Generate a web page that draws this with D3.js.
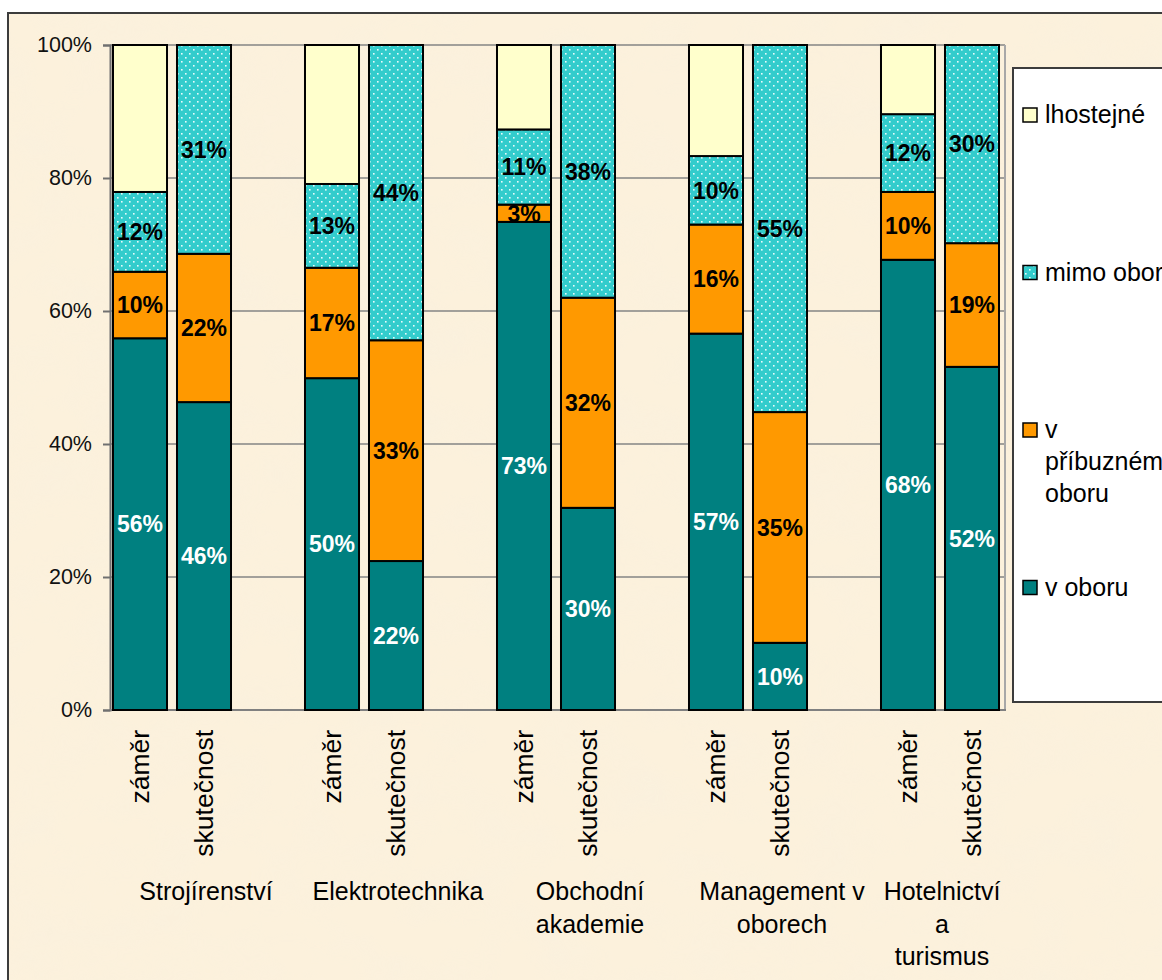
<!DOCTYPE html>
<html><head><meta charset="utf-8">
<script src="https://cdn.jsdelivr.net/npm/d3@7"></script>
<style>html,body{margin:0;padding:0;background:#fff;overflow:hidden}svg{display:block;font-family:"Liberation Sans",Arial,sans-serif}</style>
</head><body><svg id="c" width="1162" height="980"></svg>
<script>
// ---- data ----
const groups = ["Strojírenství","Elektrotechnika","Obchodní akademie","Management v oborech","Hotelnictví a turismus"];
const groupLabelLines = [["Strojírenství"],["Elektrotechnika"],["Obchodní","akademie"],["Management v","oborech"],["Hotelnictví","a","turismus"]];
const subCategories = ["záměr","skutečnost"];
const seriesNames = ["v oboru","v příbuzném oboru","mimo obor","lhostejné"];
const legendLines = [["v oboru"],["v","příbuzném","oboru"],["mimo obor"],["lhostejné"]];
const vOboru     = [55.9,46.3,49.9,22.4,73.4,30.4,56.6,10.1,67.7,51.6];
const vPribuznem = [10.0,22.3,16.6,33.2, 2.6,31.6,16.4,34.7,10.2,18.6];
const mimoObor   = [12.0,31.4,12.6,44.4,11.3,38.0,10.3,55.2,11.7,29.8];
const lhostejne  = [22.1, 0.0,20.9, 0.0,12.7, 0.0,16.7, 0.0,10.4, 0.0];
const yTicks = [0,20,40,60,80,100];

// ---- build ----
const seriesValues = [vOboru, vPribuznem, mimoObor, lhostejne];
const rows = [];
groups.forEach((g,gi)=>subCategories.forEach((s,si)=>{
  const i = gi*2+si; const r = {key:g+"|"+s, group:g, sub:s};
  seriesNames.forEach((n,k)=>r[n]=seriesValues[k][i]); rows.push(r);
}));
const slots = [];
groups.forEach((g,gi)=>{subCategories.forEach(s=>slots.push(g+"|"+s)); if(gi<groups.length-1) slots.push(g+"|gap");});

const svg = d3.select("#c");
const defs = svg.append("defs");
// parchment texture
const f = defs.append("filter").attr("id","parch").attr("x",0).attr("y",0).attr("width","100%").attr("height","100%");
f.append("feTurbulence").attr("type","fractalNoise").attr("baseFrequency","0.015 0.022").attr("numOctaves",3).attr("seed",7);
f.append("feColorMatrix").attr("type","matrix").attr("values","0 0 0 0 0.94  0 0 0 0 0.87  0 0 0 0 0.74  0 0 0 1.3 -0.5");
// dotted pattern
const pat = defs.append("pattern").attr("id","dots").attr("patternUnits","userSpaceOnUse").attr("width",8).attr("height",8);
pat.append("rect").attr("width",8).attr("height",8).attr("fill","#33CCCC");
pat.append("rect").attr("x",1).attr("y",1).attr("width",1.6).attr("height",1.6).attr("fill","#e8fbfb");
pat.append("rect").attr("x",5).attr("y",5).attr("width",1.6).attr("height",1.6).attr("fill","#e8fbfb");

// chart area background
svg.append("rect").attr("x",8).attr("y",13).attr("width",1200).attr("height",1000).attr("fill","#fcf1dc");
svg.append("rect").attr("x",8).attr("y",13).attr("width",1200).attr("height",1000).attr("filter","url(#parch)").attr("opacity",0.6);
svg.append("rect").attr("x",8).attr("y",13).attr("width",1200).attr("height",1000).attr("fill","none").attr("stroke","#3c3c3c").attr("stroke-width",2);

const pL=110, pR=1006, pT=45, pB=710;
const x = d3.scaleBand().domain(slots).range([pL,pR]).paddingInner(0.156).paddingOuter(0.078).align(0.3);
const y = d3.scaleLinear().domain([0,100]).range([pB,pT]);
const colors = {"v oboru":"#008080","v příbuzném oboru":"#FF9900","mimo obor":"url(#dots)","lhostejné":"#FFFFCC"};
const labelColors = {"v oboru":"#ffffff","v příbuzném oboru":"#000","mimo obor":"#000"};

// gridlines
svg.append("g").selectAll("line").data(yTicks.filter(t=>t>0)).join("line")
  .attr("x1",pL).attr("x2",pR-1).attr("y1",d=>y(d)).attr("y2",d=>y(d))
  .attr("stroke","#858585").attr("stroke-width",1.5);
svg.append("line").attr("x1",pR-1).attr("x2",pR-1).attr("y1",pT).attr("y2",pB).attr("stroke","#a8a8a8").attr("stroke-width",2);

// y axis
const yAxis = svg.append("g").attr("transform",`translate(${pL},0)`)
  .call(d3.axisLeft(y).tickValues(yTicks).tickFormat(d=>d+"%").tickSize(7).tickPadding(11));
yAxis.select(".domain").attr("stroke","#707070").attr("stroke-width",2);
yAxis.selectAll(".tick line").attr("stroke","#707070").attr("stroke-width",2);
yAxis.selectAll("text").attr("font-size",21.5).attr("fill","#111").attr("font-family",'"Liberation Sans",Arial,sans-serif');
svg.append("line").attr("x1",pL).attr("x2",pR).attr("y1",pB).attr("y2",pB).attr("stroke","#808080").attr("stroke-width",2);

// stacks
const stack = d3.stack().keys(seriesNames)(rows);
const gBars = svg.append("g");
stack.forEach(layer=>{
  const name = layer.key;
  gBars.append("g").selectAll("rect").data(layer.filter(d=>d[1]-d[0]>0)).join("rect")
    .attr("x",d=>x(d.data.key)).attr("width",x.bandwidth())
    .attr("y",d=>y(d[1])).attr("height",d=>y(d[0])-y(d[1]))
    .attr("fill",colors[name]).attr("stroke","#000").attr("stroke-width",2);
});
// labels
stack.forEach(layer=>{
  const name = layer.key; if(!(name in labelColors)) return;
  svg.append("g").selectAll("text").data(layer.filter(d=>d[1]-d[0]>0)).join("text")
    .attr("x",d=>x(d.data.key)+x.bandwidth()/2).attr("y",d=>(y(d[0])+y(d[1]))/2)
    .attr("dy","0.36em").attr("text-anchor","middle").attr("font-weight","bold").attr("font-size",23)
    .attr("fill",labelColors[name]).text(d=>d3.format(".0f")(d[1]-d[0])+"%");
});

// sub-category labels (rotated)
svg.append("g").selectAll("text").data(rows).join("text")
  .attr("transform",d=>`translate(${x(d.key)+x.bandwidth()/2+9},${pB+20}) rotate(-90) scale(1.06,1)`)
  .attr("text-anchor","end").attr("font-size",25).attr("fill","#000").text(d=>d.sub);

// group labels
groups.forEach((g,gi)=>{
  const own = slots.filter(s=>s.startsWith(g+"|"));
  const lo = x(own[0]) - (x.step()-x.bandwidth())*0.3;
  const hi = gi<groups.length-1 ? lo + x.step()*own.length : pR;
  const cx = (lo+hi)/2;
  const t = svg.append("text").attr("text-anchor","middle").attr("font-size",25).attr("fill","#000");
  groupLabelLines[gi].forEach((ln,li)=>t.append("tspan").attr("x",cx).attr("y",900+li*32.5).text(ln));
});

// legend
const lx=1013, ly=68;
svg.append("rect").attr("x",lx).attr("y",ly).attr("width",200).attr("height",634).attr("fill","#fff").attr("stroke","#3c3c3c").attr("stroke-width",2);
const legOrder = seriesNames.slice().reverse();
legOrder.forEach((n,i)=>{
  const cy = ly+47+i*157.5;
  svg.append("rect").attr("x",lx+10).attr("y",cy-7).attr("width",14).attr("height",14)
    .attr("fill",colors[n]).attr("stroke","#000").attr("stroke-width",1.5);
  const lines = legendLines[seriesNames.indexOf(n)];
  const t = svg.append("text").attr("font-size",25).attr("fill","#000");
  lines.forEach((ln,li)=>t.append("tspan").attr("x",lx+32).attr("y",cy+8+li*32).text(ln));
});
</script></body></html>
